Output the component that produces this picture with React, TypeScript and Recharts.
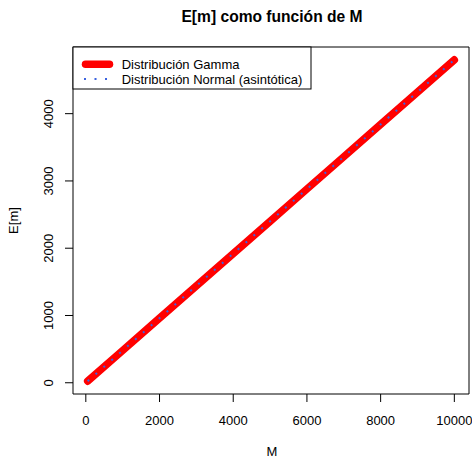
import React from 'react';
import { LineChart, Line, XAxis, YAxis, ReferenceArea } from 'recharts';

// Data
const mValues = [50, 1000, 2000, 3000, 4000, 5000, 6000, 7000, 8000, 9000, 10000];
const gammaValues = [24, 480, 960, 1440, 1920, 2400, 2880, 3360, 3840, 4320, 4800];
const normalValues = [24, 480, 960, 1440, 1920, 2400, 2880, 3360, 3840, 4320, 4800];

const xTicks = [0, 2000, 4000, 6000, 8000, 10000];
const yTicks = [0, 1000, 2000, 3000, 4000];
const xDomain: [number, number] = [-348, 10398];
const yDomain: [number, number] = [-167, 4991];

const title = 'E[m] como función de M';
const xLabel = 'M';
const yLabel = 'E[m]';
const legendLabels = ['Distribución Gamma', 'Distribución Normal (asintótica)'];

const data = mValues.map((m, i) => ({ M: m, gamma: gammaValues[i], normal: normalValues[i] }));

const FONT = '"Liberation Sans", Arial, Helvetica, sans-serif';

const XTick = (props: any) => {
  const { x, y, payload } = props;
  return (
    <text x={x} y={y + 21} textAnchor="middle" fontSize={13} fontFamily={FONT} fill="#000">
      {payload.value}
    </text>
  );
};

const YTick = (props: any) => {
  const { y, payload } = props;
  const bx = 53.5;
  return (
    <text
      x={bx}
      y={y}
      transform={`rotate(-90, ${bx}, ${y})`}
      textAnchor="middle"
      fontSize={13}
      fontFamily={FONT}
      fill="#000"
    >
      {payload.value}
    </text>
  );
};

export default function App() {
  return (
    <div style={{ position: 'absolute', left: 0, top: 0, width: 472, height: 462, background: '#fff' }}>
      <LineChart
        width={472}
        height={462}
        data={data}
        margin={{ top: 47, right: 3, left: 0, bottom: 0 }}
      >
        <XAxis
          type="number"
          dataKey="M"
          domain={xDomain}
          ticks={xTicks}
          interval={0}
          allowDataOverflow
          axisLine={false}
          tickLine={{ stroke: '#000' }}
          tickSize={8}
          tick={<XTick />}
          height={68}
        />
        <YAxis
          type="number"
          domain={yDomain}
          ticks={yTicks}
          interval={0}
          allowDataOverflow
          axisLine={false}
          tickLine={{ stroke: '#000' }}
          tickSize={8}
          tick={<YTick />}
          width={73}
        />
        <Line
          type="linear"
          dataKey="gamma"
          stroke="#ff0000"
          strokeWidth={7.5}
          strokeLinecap="round"
          strokeLinejoin="round"
          dot={false}
          activeDot={false}
          isAnimationActive={false}
        />
        <Line
          type="linear"
          dataKey="normal"
          stroke="#3b63e0"
          strokeWidth={2}
          strokeDasharray="2 8.5"
          dot={false}
          activeDot={false}
          isAnimationActive={false}
        />
        <ReferenceArea
          x1={xDomain[0]}
          x2={xDomain[1]}
          y1={yDomain[0]}
          y2={yDomain[1]}
          fill="none"
          fillOpacity={0}
          stroke="#000"
          strokeWidth={1}
          ifOverflow="visible"
        />
      </LineChart>
      <svg
        width={472}
        height={462}
        style={{ position: 'absolute', left: 0, top: 0, pointerEvents: 'none' }}
      >
        <text x={272} y={21.5} textAnchor="middle" fontSize={15.6} fontWeight="bold" fontFamily={FONT} fill="#000">
          {title}
        </text>
        <text x={272} y={456} textAnchor="middle" fontSize={13} fontFamily={FONT} fill="#000">
          {xLabel}
        </text>
        <text
          x={18}
          y={220.5}
          transform="rotate(-90, 18, 220.5)"
          textAnchor="middle"
          fontSize={13}
          fontFamily={FONT}
          fill="#000"
        >
          {yLabel}
        </text>
        <g>
          <rect x={73} y={47} width={238} height={42} fill="#fff" stroke="#000" strokeWidth={1} />
          <line x1={85.5} y1={64.3} x2={109.5} y2={64.3} stroke="#ff0000" strokeWidth={7.5} strokeLinecap="round" />
          <line x1={84} y1={79} x2={112} y2={79} stroke="#3b63e0" strokeWidth={2} strokeDasharray="2 8.5" />
          <text x={121.7} y={69} fontSize={13} fontFamily={FONT} fill="#000">
            {legendLabels[0]}
          </text>
          <text x={121.7} y={83.7} fontSize={13} fontFamily={FONT} fill="#000">
            {legendLabels[1]}
          </text>
        </g>
      </svg>
    </div>
  );
}
